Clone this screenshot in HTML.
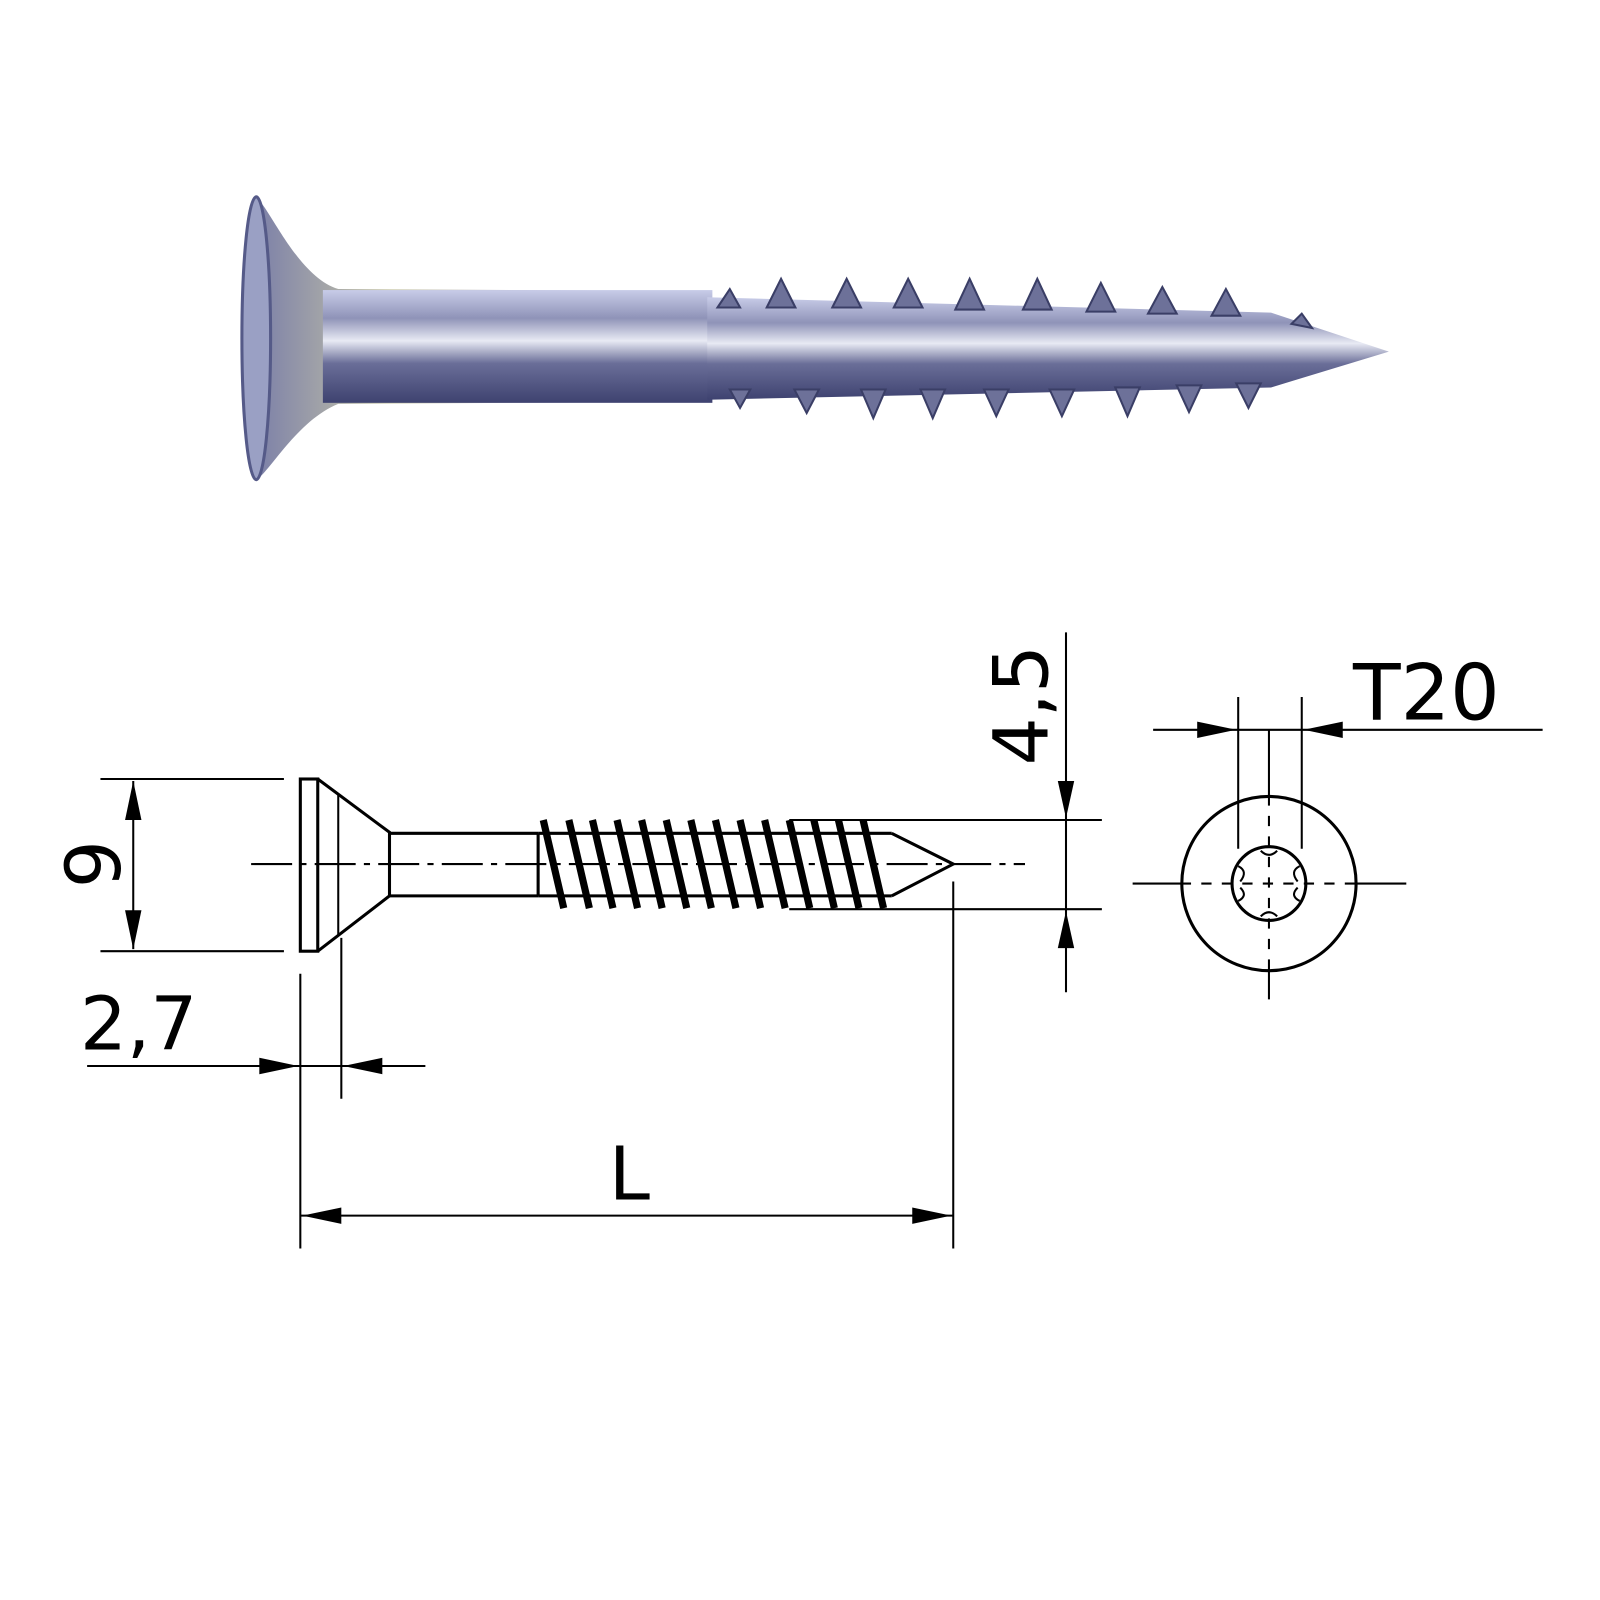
<!DOCTYPE html>
<html><head><meta charset="utf-8"><style>
html,body{margin:0;padding:0;background:#fff}
svg{display:block}
text{font-family:"DejaVu Sans","Liberation Sans",sans-serif;fill:#000}
</style></head><body>
<svg width="1600" height="1600" viewBox="0 0 1600 1600" xmlns="http://www.w3.org/2000/svg">
<defs>
<linearGradient id="sh" x1="0" y1="0" x2="0" y2="1">
<stop offset="0" stop-color="#c8cce8"/><stop offset="0.25" stop-color="#8f93b8"/>
<stop offset="0.45" stop-color="#e8eaf4"/><stop offset="0.65" stop-color="#6a6e98"/>
<stop offset="1" stop-color="#3e4270"/></linearGradient>
<linearGradient id="hd" x1="0" y1="0" x2="1" y2="0">
<stop offset="0" stop-color="#7c80a8"/><stop offset="0.3" stop-color="#c9c8a8"/>
<stop offset="0.7" stop-color="#a9a4c8"/><stop offset="1" stop-color="#8a8fb5"/></linearGradient>
</defs>
<g transform="scale(1.025)">
<!-- photo screw -->
<g>
<path d="M250,193 C262,200 290,270 330,282 L690,284 L690,392 L330,394 C290,410 262,462 250,468 Z" fill="url(#hd)"/>
<ellipse cx="250" cy="330" rx="14" ry="138" fill="#9aa0c4" stroke="#555a88" stroke-width="3"/>
<rect x="315" y="283" width="380" height="110" fill="url(#sh)"/>
<path d="M690,290 L1240,305 L1355,343 L1240,378 L690,390 Z" fill="url(#sh)"/>
<g fill="#6d7199" stroke="#3a3e66" stroke-width="2">
<path d="M700,300 L712,282 L722,300 Z"/><path d="M712,380 L722,398 L732,380 Z"/>
<path d="M748,300 L762,272 L776,300 Z"/><path d="M775,380 L787,403 L799,380 Z"/>
<path d="M812,300 L826,272 L840,300 Z"/><path d="M840,380 L852,408 L864,380 Z"/>
<path d="M872,300 L886,272 L900,300 Z"/><path d="M898,380 L910,408 L922,380 Z"/>
<path d="M932,302 L946,272 L960,302 Z"/><path d="M960,380 L972,406 L984,380 Z"/>
<path d="M998,302 L1012,272 L1026,302 Z"/><path d="M1024,380 L1036,406 L1048,380 Z"/>
<path d="M1060,304 L1074,276 L1088,304 Z"/><path d="M1088,378 L1100,406 L1112,378 Z"/>
<path d="M1120,306 L1134,280 L1148,306 Z"/><path d="M1148,376 L1160,402 L1172,376 Z"/>
<path d="M1182,308 L1196,282 L1210,308 Z"/><path d="M1206,374 L1218,398 L1230,374 Z"/>
<path d="M1260,316 L1270,306 L1280,320 Z"/>
</g>
</g>

<g stroke="#000" fill="none" stroke-width="3">
<rect x="293" y="760" width="17" height="168"/>
<path d="M310,760 L380,812 L380,874 L310,928"/>
<path d="M330,775 L330,913" stroke-width="2"/>
<path d="M380,813 L525,813 M380,874 L525,874"/>
<path d="M525,813 L870,813 M525,874 L870,874 M525,813 L525,874"/>
<path d="M870,813 L930,843 L870,874"/>
<line x1="245" y1="843" x2="1000" y2="843" stroke-width="2" stroke-dasharray="40,8,6,8"/>
<g stroke-width="7">
<line x1="530" y1="800" x2="550" y2="886"/><line x1="555" y1="800" x2="575" y2="886"/>
<line x1="578" y1="800" x2="598" y2="886"/><line x1="602" y1="800" x2="622" y2="886"/>
<line x1="626" y1="800" x2="646" y2="886"/><line x1="650" y1="800" x2="670" y2="886"/>
<line x1="674" y1="800" x2="694" y2="886"/><line x1="698" y1="800" x2="718" y2="886"/>
<line x1="722" y1="800" x2="742" y2="886"/><line x1="746" y1="800" x2="766" y2="886"/>
<line x1="770" y1="800" x2="790" y2="886"/><line x1="794" y1="800" x2="814" y2="886"/>
<line x1="818" y1="800" x2="838" y2="886"/><line x1="842" y1="800" x2="862" y2="886"/>
</g>
<line x1="98" y1="760" x2="277" y2="760" stroke-width="2"/>
<line x1="98" y1="928" x2="277" y2="928" stroke-width="2"/>
<line x1="130" y1="762" x2="130" y2="926" stroke-width="2"/>
<line x1="85" y1="1040" x2="415" y2="1040" stroke-width="2"/>
<line x1="293" y1="950" x2="293" y2="1218" stroke-width="2"/>
<line x1="333" y1="915" x2="333" y2="1072" stroke-width="2"/>
<line x1="293" y1="1186" x2="930" y2="1186" stroke-width="2"/>
<line x1="930" y1="860" x2="930" y2="1218" stroke-width="2"/>
<line x1="770" y1="800" x2="1075" y2="800" stroke-width="2"/>
<line x1="770" y1="887" x2="1075" y2="887" stroke-width="2"/>
<line x1="1040" y1="617" x2="1040" y2="968" stroke-width="2"/>
<line x1="1125" y1="712" x2="1505" y2="712" stroke-width="2"/>
<line x1="1208" y1="680" x2="1208" y2="828" stroke-width="2"/>
<line x1="1270" y1="680" x2="1270" y2="828" stroke-width="2"/>
<line x1="1238" y1="712" x2="1238" y2="776" stroke-width="2"/>
<line x1="1238" y1="776" x2="1238" y2="948" stroke-width="2" stroke-dasharray="10,10"/>
<line x1="1238" y1="948" x2="1238" y2="975" stroke-width="2"/>
<line x1="1105" y1="862" x2="1152" y2="862" stroke-width="2"/>
<line x1="1152" y1="862" x2="1324" y2="862" stroke-width="2" stroke-dasharray="10,10"/>
<line x1="1324" y1="862" x2="1372" y2="862" stroke-width="2"/>
<circle cx="1238" cy="862" r="85"/>
<circle cx="1238" cy="862" r="36"/>
<g stroke-width="2">
<path d="M1230,830 Q1238,838 1246,830"/><path d="M1230,894 Q1238,886 1246,894"/>
<path d="M1208,845 Q1218,850 1210,860"/><path d="M1268,845 Q1258,850 1266,860"/>
<path d="M1208,879 Q1218,874 1210,866"/><path d="M1268,879 Q1258,874 1266,866"/>
</g>
</g>
<g fill="#000">
<path d="M130,762 L122,800 L138,800 Z"/><path d="M130,926 L122,888 L138,888 Z"/>
<path d="M291,1040 L253,1032 L253,1048 Z"/><path d="M335,1040 L373,1032 L373,1048 Z"/>
<path d="M295,1186 L333,1178 L333,1194 Z"/><path d="M928,1186 L890,1178 L890,1194 Z"/>
<path d="M1040,798 L1032,762 L1048,762 Z"/><path d="M1040,889 L1032,925 L1048,925 Z"/>
<path d="M1206,712 L1168,704 L1168,720 Z"/><path d="M1272,712 L1310,704 L1310,720 Z"/>
</g>
<text x="1320" y="702" font-size="76">T20</text>
<text x="78" y="1024" font-size="72">2,7</text>
<text x="594" y="1170" font-size="72">L</text>
<text transform="translate(117,843) rotate(-90)" text-anchor="middle" font-size="74">9</text>
<text transform="translate(1022,688) rotate(-90)" text-anchor="middle" font-size="74">4,5</text>
</g>
</svg>
</body></html>
